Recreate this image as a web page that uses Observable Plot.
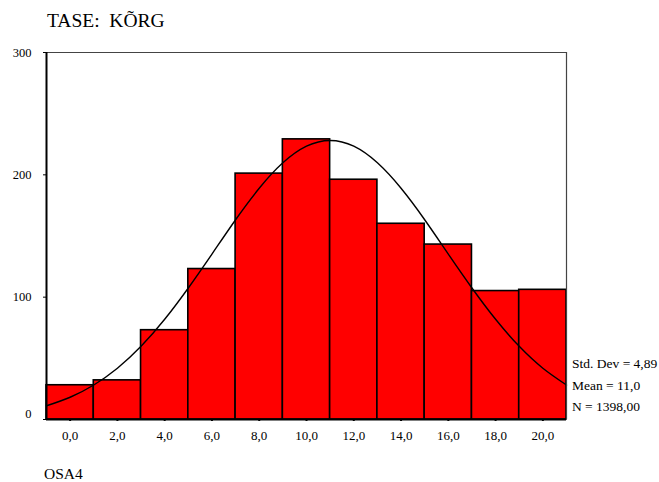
<!DOCTYPE html>
<html>
<head>
<meta charset="utf-8">
<script src="https://cdn.jsdelivr.net/npm/d3@7"></script>
<script src="https://cdn.jsdelivr.net/npm/@observablehq/plot@0.6"></script>
<style>
  html, body { margin: 0; padding: 0; background: #fff; }
  #wrap { position: relative; width: 659px; height: 482px; font-family: "Liberation Serif", serif; color: #000; }
  #wrap svg { position: absolute; left: 0; top: 0; }
  .t { position: absolute; white-space: pre; line-height: 1; }
</style>
</head>
<body>
<div id="wrap"></div>
<script>
// Histogram bins (labels at bin centres) and counts
const binCenters = [0, 2, 4, 6, 8, 10, 12, 14, 16, 18, 20];
const counts = [28, 32, 73, 123, 201, 229, 196, 160, 143, 105, 106];
const xTickLabels = ["0,0", "2,0", "4,0", "6,0", "8,0", "10,0", "12,0", "14,0", "16,0", "18,0", "20,0"];
const yTicks = [0, 100, 200, 300];
// Fitted normal curve
const curveX = [-1, 0, 1, 2, 3, 4, 5, 6, 7, 8, 9, 10, 11, 12, 13, 14, 15, 16, 17, 18, 19, 20, 21];
const curveY = [11.2, 18.2, 28.2, 41.9, 59.8, 81.9, 107.5, 135.2, 163.3, 189.0, 209.8, 223.4, 228.1, 223.4, 209.8, 189.0, 163.3, 135.2, 107.5, 81.9, 59.8, 41.9, 28.2];
const statsLines = ["Std. Dev = 4,89", "Mean = 11,0", "N = 1398,00"];
const title = "TASE:  KÕRG";
const footer = "OSA4";

const bars = binCenters.map((c, i) => ({x1: c - 1, x2: c + 1, y: counts[i]}));
const curve = curveX.map((x, i) => ({x, y: curveY[i]}));

const font = '"Liberation Serif", serif';

const chart = Plot.plot({
  width: 659,
  height: 482,
  marginLeft: 46,
  marginRight: 93,
  marginTop: 52,
  marginBottom: 63,
  style: {fontFamily: font, fontSize: "13px", background: "transparent", overflow: "visible"},
  x: {domain: [-1, 21]},
  y: {domain: [0, 300]},
  marks: [
    Plot.rectY(bars, {x1: "x1", x2: "x2", y: "y", fill: "#ff0000", stroke: "#000", strokeWidth: 1.6}),
    Plot.line(curve, {x: "x", y: "y", curve: "natural", stroke: "#000", strokeWidth: 1.4}),
    Plot.ruleY([300], {stroke: "#444", strokeWidth: 1.2}),
    Plot.ruleX([21], {stroke: "#444", strokeWidth: 1.2}),
    Plot.ruleX([-1], {stroke: "#000", strokeWidth: 2}),
    Plot.ruleY([0], {stroke: "#000", strokeWidth: 2}),
    Plot.axisY({ticks: yTicks, tickSize: 3, tickPadding: 12, tickFormat: d => d === 0 ? "" : String(d), label: null, fontSize: 12.5}),
    Plot.text(yTicks.filter(d => d === 0), {x: -1, y: d => d, text: d => String(d), textAnchor: "end", dx: -15, dy: -6, fontSize: 12.5}),
    Plot.axisX({ticks: binCenters, tickSize: 2, tickPadding: 9, tickFormat: d => xTickLabels[binCenters.indexOf(d)], label: null, fontSize: 13, strokeWidth: 2})
  ]
});

const wrap = document.getElementById("wrap");
wrap.appendChild(chart);

function addText(str, left, top, size) {
  const d = document.createElement("div");
  d.className = "t";
  d.textContent = str;
  d.style.left = left + "px";
  d.style.top = top + "px";
  d.style.fontSize = size + "px";
  wrap.appendChild(d);
}
addText(title, 47, 11, 19.5);
statsLines.forEach((s, i) => addText(s, 572, 357 + i * 21.5, 13.5));
addText(footer, 44, 466, 15.5);
</script>
</body>
</html>
